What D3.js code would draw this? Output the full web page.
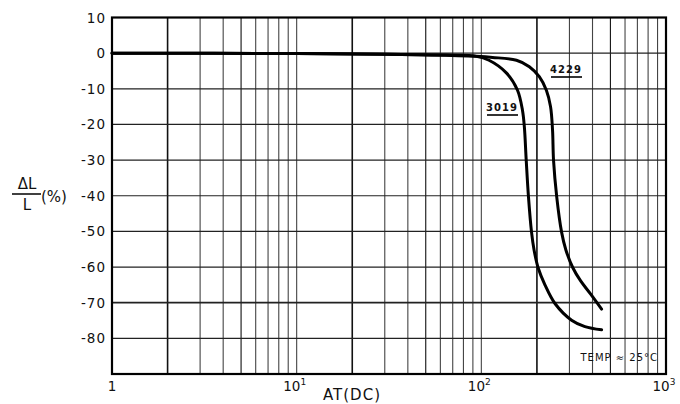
<!DOCTYPE html>
<html>
<head>
<meta charset="utf-8">
<script src="https://cdn.jsdelivr.net/npm/d3@7"></script>
<style>
  body { margin: 0; background: #fff; }
  text { font-family: "DejaVu Sans", sans-serif; fill: #111; }
</style>
</head>
<body>
<div id="container"></div>
<script>
let w = 680;
let h = 404;

// data
let yTicks = [10, 0, -10, -20, -30, -40, -50, -60, -70, -80];
let xDecades = [1, 10, 100, 1000];
let xDecadeLabels = ["1", "10", "10", "10"];
let xDecadeSup = ["", "1", "2", "3"];

let at3019 = [1, 10, 30, 54, 94, 110, 137, 157, 167, 171, 175, 180, 187, 193, 203, 221, 251, 308, 364, 448];
let dl3019 = [0, -0.1, -0.3, -0.5, -0.9, -2, -5.6, -10.4, -16, -20.7, -30, -40.3, -50.2, -55.2, -60.2, -65, -70.3, -74.9, -76.7, -77.6];

let at4229 = [1, 10, 30, 54, 94, 115, 155, 182, 206, 225, 237, 243, 246, 256, 272, 287, 313, 345, 391, 448];
let dl4229 = [0, -0.1, -0.3, -0.5, -0.9, -1.2, -2, -3.8, -6.6, -10.4, -15, -21.6, -30, -40.3, -50.2, -55.2, -60.2, -63.9, -67.6, -71.8];

let pLeft = 112, pRight = 666, pTop = 17.5, pBottom = 374;

let viz = d3.select('#container')
  .append('svg')
    .attr('width', w)
    .attr('height', h)
    .style('background-color', 'white')
;

let x = d3.scaleLog().domain([1, 1000]).range([pLeft, pRight]);
let y = d3.scaleLinear().domain([10, -90]).range([pTop, pBottom]);

// vertical grid: 1..9 in every decade
let grid = viz.append("g").classed("grid", true);
let xs = [];
for (let d = 1; d < 1000; d *= 10) {
  for (let m = 1; m < 10; m++) {
    xs.push(d * m);
  }
}
grid.selectAll('line.v').data(xs).enter().append('line')
  .attr('class', 'v')
  .attr('x1', function(d){ return x(d); })
  .attr('x2', function(d){ return x(d); })
  .attr('y1', pTop)
  .attr('y2', pBottom)
  .attr('stroke', function(d, i){ return (i % 9 == 1 || i % 9 == 4) ? '#111' : '#444'; })
  .attr('stroke-width', function(d, i){ return (i % 9 == 1) ? 1.6 : 1.1; })
;

grid.selectAll('line.h').data(yTicks).enter().append('line')
  .attr('class', 'h')
  .attr('x1', pLeft)
  .attr('x2', pRight)
  .attr('y1', function(d){ return y(d); })
  .attr('y2', function(d){ return y(d); })
  .attr('stroke', '#222')
  .attr('stroke-width', function(d){ return d == -70 ? 1.8 : 1.2; })
;

// frame
viz.append('rect')
  .attr('x', pLeft).attr('y', pTop)
  .attr('width', pRight - pLeft).attr('height', pBottom - pTop)
  .attr('fill', 'none').attr('stroke', '#000').attr('stroke-width', 2.2);

// y tick labels
viz.append('g').selectAll('text').data(yTicks).enter().append('text')
  .attr('x', 106)
  .attr('y', function(d){ return y(d) + 5; })
  .attr('text-anchor', 'end')
  .attr('font-size', '13.5px')
  .attr('letter-spacing', '1px')
  .text(function(d){ return d == 0 || d == 10 ? String(d) : "-" + Math.abs(d); })
;

// x tick labels
let xl = viz.append('g');
xDecades.forEach(function(d, i){
  let t = xl.append('text')
    .attr('x', x(d) + (i == 0 ? 0 : -2))
    .attr('y', 391)
    .attr('text-anchor', 'middle')
    .attr('font-size', '13.5px')
    .text(xDecadeLabels[i]);
  if (xDecadeSup[i]) {
    t.append('tspan').attr('dy', -6).attr('font-size', '9px').text(xDecadeSup[i]);
  }
});

viz.append('text')
  .attr('x', 352).attr('y', 400)
  .attr('text-anchor', 'middle')
  .attr('font-size', '15px')
  .attr('letter-spacing', '1px')
  .text('AT(DC)');

// y axis label: ΔL / L (%)
viz.append('text').attr('x', 27).attr('y', 189).attr('text-anchor', 'middle')
  .attr('font-size', '15px').text('ΔL');
viz.append('line').attr('x1', 12).attr('x2', 41).attr('y1', 194).attr('y2', 194)
  .attr('stroke', '#111').attr('stroke-width', 1.6);
viz.append('text').attr('x', 27).attr('y', 210).attr('text-anchor', 'middle')
  .attr('font-size', '15px').text('L');
viz.append('text').attr('x', 41).attr('y', 202)
  .attr('font-size', '15px').text('(%)');

// curves
let line = d3.line()
  .x(function(d){ return x(d[0]); })
  .y(function(d){ return y(d[1]); })
  .curve(d3.curveCatmullRom.alpha(0.5));

let curves = viz.append('g').classed('curves', true);
[[at3019, dl3019], [at4229, dl4229]].forEach(function(s){
  curves.append('path')
    .datum(d3.zip(s[0], s[1]))
    .attr('d', line)
    .attr('fill', 'none')
    .attr('stroke', '#000')
    .attr('stroke-width', 3)
    .attr('stroke-linecap', 'round');
});

// curve labels
function label(tx, ty, str) {
  viz.append('text').attr('x', tx).attr('y', ty)
    .attr('text-anchor', 'middle').attr('font-size', '10px')
    .attr('font-weight', 'bold').attr('letter-spacing', '1px').text(str);
  viz.append('line').attr('x1', tx - 15).attr('x2', tx + 16)
    .attr('y1', ty + 4).attr('y2', ty + 4)
    .attr('stroke', '#000').attr('stroke-width', 1.6);
}
label(566, 73, '4229');
label(502, 111, '3019');

viz.append('text').attr('x', 658).attr('y', 361)
  .attr('text-anchor', 'end').attr('font-size', '10px')
  .attr('letter-spacing', '1px')
  .text('TEMP  ≈  25°C');
</script>
</body>
</html>
